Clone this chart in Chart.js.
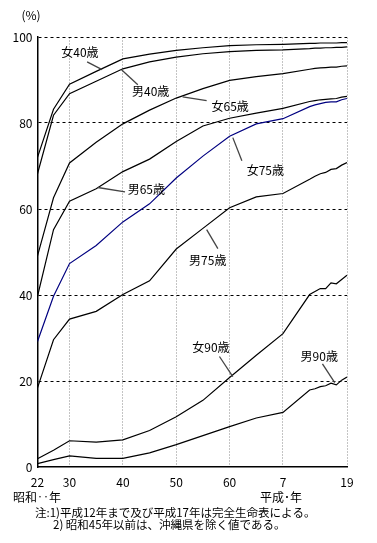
<!DOCTYPE html>
<html lang="ja">
<head>
<meta charset="utf-8">
<script src="https://cdn.jsdelivr.net/npm/chart.js@4.4.1/dist/chart.umd.min.js"></script>
<style>
  html, body { margin: 0; padding: 0; background: #fff; }
  #wrap { width: 377px; height: 543px; position: relative; }
</style>
</head>
<body>
<div id="wrap"><canvas id="myChart"></canvas></div>
<script>
// 年次（昭和換算：平成n年 = 昭和(n+63)年）
const years = [22, 25, 30, 35, 40, 45, 50, 55, 60, 65, 70, 75, 76, 77, 78, 79, 80, 81, 82];
const tickYears = [22, 30, 40, 50, 60, 70, 82];
const tickLabels = ['22', '30', '40', '50', '60', '7', '19'];

// 特定年齢まで生存する者の割合（%）
const female40 = [72.0, 83.2, 89.0, 92.0, 94.9, 96.0, 96.9, 97.5, 98.0, 98.2, 98.3, 98.5, 98.5, 98.6, 98.6, 98.6, 98.6, 98.7, 98.7];
const male40   = [68.2, 81.8, 86.8, 89.7, 92.6, 94.2, 95.3, 96.1, 96.6, 96.9, 97.0, 97.3, 97.4, 97.4, 97.5, 97.5, 97.6, 97.6, 97.7];
const female65 = [49.1, 62.6, 70.7, 75.5, 79.8, 83.0, 85.8, 88.0, 89.9, 90.8, 91.5, 92.5, 92.7, 92.8, 92.9, 93.0, 93.0, 93.2, 93.3];
const male65   = [39.7, 55.2, 61.8, 64.7, 68.7, 71.6, 75.7, 79.3, 81.1, 82.3, 83.4, 85.0, 85.2, 85.4, 85.5, 85.6, 85.7, 86.0, 86.2];
const female75 = [29.2, 39.7, 47.3, 51.5, 57.0, 61.2, 67.2, 72.3, 76.9, 79.8, 81.0, 83.8, 84.2, 84.5, 84.8, 84.9, 84.9, 85.4, 85.7];
const male75   = [18.4, 29.6, 34.4, 36.2, 40.1, 43.3, 50.7, 55.5, 60.3, 62.8, 63.6, 66.9, 67.6, 68.2, 68.5, 69.2, 69.4, 70.2, 70.8];
const female90 = [1.9, 3.9, 6.1, 5.8, 6.3, 8.5, 11.7, 15.5, 20.8, 26.0, 31.0, 40.1, 40.8, 41.5, 41.5, 42.8, 42.6, 43.6, 44.6];
const male90   = [0.8, 1.7, 2.6, 2.0, 2.0, 3.3, 5.2, 7.3, 9.4, 11.4, 12.7, 17.9, 18.2, 18.7, 18.9, 19.5, 19.1, 20.2, 20.9];

const FONT = '"Noto Sans CJK JP", "DejaVu Sans", sans-serif';

// 昭和30年より前は間隔をつめて描いている
function axisPos(y) {
    if (y === 22) return 0;
    if (y === 25) return 3;
    return y - 24;
}

function toPoints(arr) {
    return arr.map((v, i) => ({ x: axisPos(years[i]), y: v }));
}

function makeLine(label, arr, color) {
    return {
        label: label,
        data: toPoints(arr),
        borderColor: color,
        borderWidth: 1.2,
        pointRadius: 0,
        fill: false,
        tension: 0
    };
}

// ラベルと引き出し線（データ座標）
const notes = [
    { text: '女40歳', tx: 7.95, ty: 96.5, l: [9.3, 94.2, 12.1, 92.4] },
    { text: '男40歳', tx: 21.2, ty: 87.3, l: [15.75, 92.4, 18.8, 88.9] },
    { text: '女65歳', tx: 36.1, ty: 83.8, l: [27.2, 86.1, 31.7, 85.2] },
    { text: '女75歳', tx: 42.7, ty: 68.9, l: [36.6, 76.6, 38.3, 71.2] },
    { text: '男65歳', tx: 20.4, ty: 64.5, l: [11.3, 65.0, 16.4, 64.0] },
    { text: '男75歳', tx: 31.9, ty: 48.0, l: [31.7, 55.2, 33.8, 50.8] },
    { text: '女90歳', tx: 32.5, ty: 27.7, l: [34.1, 25.7, 36.6, 21.0] },
    { text: '男90歳', tx: 52.8, ty: 25.8, l: [53.4, 24.0, 55.7, 19.6] }
];

const extraText = {
    id: 'extraText',
    afterDraw(chart) {
        const ctx = chart.ctx;
        const xs = chart.scales.x, ys = chart.scales.y;
        ctx.save();
        ctx.fillStyle = '#000';
        ctx.textBaseline = 'middle';

        notes.forEach(n => {
            ctx.strokeStyle = '#444';
            ctx.lineWidth = 1.3;
            ctx.beginPath();
            ctx.moveTo(xs.getPixelForValue(n.l[0]), ys.getPixelForValue(n.l[1]));
            ctx.lineTo(xs.getPixelForValue(n.l[2]), ys.getPixelForValue(n.l[3]));
            ctx.stroke();
            ctx.font = '12px ' + FONT;
            ctx.textAlign = 'center';
            ctx.fillText(n.text, xs.getPixelForValue(n.tx), ys.getPixelForValue(n.ty));
        });

        ctx.font = '12px ' + FONT;
        ctx.textAlign = 'center';
        ctx.fillText('(%)', 31, 15);
        ctx.textAlign = 'left';
        ctx.fillText('昭和‥年', 13, 497);
        ctx.textAlign = 'center';
        ctx.fillText('平成･年', 281, 497);

        ctx.font = '11.5px ' + FONT;
        ctx.textAlign = 'left';
        ctx.fillText('注:1)平成12年まで及び平成17年は完全生命表による。', 35, 513);
        ctx.fillText('2) 昭和45年以前は、沖縄県を除く値である。', 53, 525);
        ctx.restore();
    }
};

const ctx = document.getElementById('myChart').getContext('2d');
const myChart = new Chart(ctx, {
    type: 'line',
    data: {
        datasets: [
            makeLine('女40歳', female40, '#000'),
            makeLine('男40歳', male40, '#000'),
            makeLine('女65歳', female65, '#000'),
            makeLine('男65歳', male65, '#000'),
            makeLine('女75歳', female75, '#000080'),
            makeLine('男75歳', male75, '#000'),
            makeLine('女90歳', female90, '#000'),
            makeLine('男90歳', male90, '#000')
        ]
    },
    options: {
        responsive: true,
        maintainAspectRatio: false,
        animation: false,
        layout: { padding: { top: 37, right: 30, bottom: 56, left: 0 } },
        plugins: {
            legend: { display: false },
            tooltip: { enabled: false }
        },
        scales: {
            x: {
                type: 'linear',
                min: axisPos(22),
                max: axisPos(82),
                afterFit(scale) { scale.height = 20; },
                afterBuildTicks(scale) {
                    scale.ticks = tickYears.map(y => ({ value: axisPos(y) }));
                },
                ticks: {
                    autoSkip: false,
                    maxRotation: 0,
                    padding: 8,
                    color: '#000',
                    font: { family: FONT, size: 12 },
                    callback: (v, i) => tickLabels[i]
                },
                grid: {
                    drawTicks: false,
                    color: c => (c.tick && c.tick.value === 0) ? 'rgba(0,0,0,0)' : '#c4c4c4',
                    lineWidth: 1
                },
                border: { display: true, color: '#000', width: 1.5, dash: [2, 1] }
            },
            y: {
                min: 0,
                max: 100,
                afterFit(scale) { scale.width = 37.5; },
                ticks: {
                    stepSize: 20,
                    padding: 5,
                    color: '#000',
                    font: { family: FONT, size: 12 }
                },
                grid: {
                    drawTicks: false,
                    color: c => (c.tick && c.tick.value === 0) ? 'rgba(0,0,0,0)' : '#000',
                    lineWidth: 1
                },
                border: { display: true, color: '#000', width: 1.5, dash: [3, 3] }
            }
        }
    },
    plugins: [extraText]
});
</script>
</body>
</html>
